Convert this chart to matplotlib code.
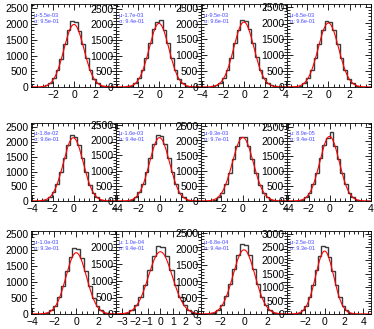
import numpy as np
import matplotlib
matplotlib.use("Agg")
import matplotlib.pyplot as plt
from matplotlib.ticker import MultipleLocator, AutoMinorLocator

plt.rcParams['font.family'] = ['Liberation Sans', 'DejaVu Sans']
plt.rcParams['font.size'] = 7.5

# common bin edges of the step histograms
edges = np.arange(-4.2, 4.2001, 0.35)

counts = [
    [0, 1, 4, 15, 48, 118, 272, 540, 905, 1380, 1810, 2090, 2060, 1790, 1365, 920, 525, 265, 122, 44, 17, 5, 1, 0],
    [0, 1, 5, 16, 45, 121, 275, 545, 930, 1400, 1840, 2080, 2140, 1830, 1395, 925, 540, 270, 118, 47, 15, 4, 1, 0],
    [0, 1, 5, 17, 49, 124, 280, 548, 920, 1385, 1815, 2120, 2090, 1820, 1390, 935, 545, 276, 125, 48, 17, 5, 1, 0],
    [0, 1, 5, 15, 46, 117, 266, 525, 895, 1350, 1770, 2050, 2020, 1775, 1345, 890, 520, 262, 116, 45, 15, 4, 1, 0],
    [0, 1, 5, 17, 50, 130, 290, 570, 975, 1465, 1905, 2230, 2180, 1900, 1455, 970, 560, 285, 128, 50, 16, 5, 1, 0],
    [0, 1, 5, 16, 47, 125, 280, 555, 950, 1420, 1865, 2170, 2140, 1860, 1415, 945, 550, 278, 124, 48, 16, 5, 1, 0],
    [0, 1, 5, 16, 48, 126, 282, 552, 940, 1410, 1850, 2150, 2130, 1845, 1410, 940, 548, 280, 126, 49, 16, 5, 1, 0],
    [0, 1, 5, 16, 48, 125, 285, 560, 950, 1430, 1870, 2100, 2320, 1860, 1420, 950, 555, 280, 122, 47, 16, 5, 1, 0],
    [0, 1, 4, 14, 44, 116, 262, 520, 890, 1350, 1770, 2080, 2050, 1765, 1345, 885, 515, 262, 116, 44, 14, 4, 1, 0],
    [0, 1, 4, 14, 43, 114, 258, 512, 875, 1325, 1740, 2040, 2010, 1735, 1320, 872, 508, 256, 113, 43, 14, 4, 1, 0],
    [0, 1, 5, 15, 46, 121, 272, 540, 925, 1400, 1830, 2150, 2120, 1825, 1395, 920, 535, 270, 120, 46, 15, 5, 1, 0],
    [0, 1, 5, 17, 52, 140, 315, 630, 1080, 1630, 2150, 2540, 2500, 2140, 1620, 1075, 625, 312, 138, 52, 17, 5, 1, 0],
]

# fitted gaussian parameters shown in each panel
mu = [-5.5e-03, -1.7e-03, -9.5e-03, -6.5e-03,
      -1.8e-02, -1.6e-03, -9.3e-03, 8.9e-05,
      -1.0e-03, 1.0e-04, -6.8e-04, -2.5e-03]
sigma = [9.5e-01, 9.4e-01, 9.6e-01, 9.6e-01,
         9.6e-01, 9.4e-01, 9.7e-01, 9.4e-01,
         9.3e-01, 9.4e-01, 9.4e-01, 9.3e-01]
amp = [1990, 2030, 2050, 2000, 2150, 2080, 2120, 2170, 1920, 1860, 1980, 2350]

xlims = [(-4.1, 4.0), (-4.1, 4.0), (-4.1, 4.1), (-3.9, 4.0),
         (-4.1, 4.1), (-4.1, 3.9), (-3.9, 4.1), (-4.1, 4.0),
         (-4.1, 3.6), (-3.5, 3.2), (-3.7, 3.7), (-3.9, 4.8)]
ymaxs = [2640, 2650, 2620, 2590, 2650, 2560, 2600, 2620, 2600, 2480, 2560, 3100]

xticks = [[-2, 0, 2], [-2, 0, 2], [-4, -2, 0, 2, 4], [-2, 0, 2],
          [-4, -2, 0, 2, 4], [-4, -2, 0, 2], [-2, 0, 2, 4], [-4, -2, 0, 2, 4],
          [-4, -2, 0, 2], [-3, -2, -1, 0, 1, 2, 3], [-2, 0, 2], [-2, 0, 2, 4]]

# axes frames in pixels (left, top, right, bottom)
col_x = [31, 116, 201, 287, 371]
row_y = [(4, 87), (123, 201), (231, 314)]

W, H = 374, 329
fig = plt.figure(figsize=(W / 100, H / 100), dpi=100)

for i in range(12):
    r, c = divmod(i, 4)
    x0, x1 = col_x[c], col_x[c + 1]
    t, b = row_y[r]
    ax = fig.add_axes([x0 / W, 1 - b / H, (x1 - x0) / W, (b - t) / H])

    ax.stairs(counts[i], edges, color='#3a3a3a', lw=1.0)
    xx = np.linspace(xlims[i][0], xlims[i][1], 300)
    ax.plot(xx, amp[i] * np.exp(-(xx - mu[i]) ** 2 / (2 * sigma[i] ** 2)),
            color='red', lw=0.8)

    ax.set_xlim(*xlims[i])
    ax.set_ylim(0, ymaxs[i])
    ax.set_xticks(xticks[i])
    ax.xaxis.set_minor_locator(AutoMinorLocator(4 if i != 9 else 2))
    ax.yaxis.set_major_locator(MultipleLocator(500))
    ax.yaxis.set_minor_locator(MultipleLocator(100))
    ax.tick_params(which='both', direction='in', top=True, right=True,
                   labelsize=7.5, pad=2, width=0.6)
    ax.tick_params(which='major', length=4)
    ax.tick_params(which='minor', length=2)
    for s in ax.spines.values():
        s.set_linewidth(0.6)

    ax.text(0.03, 0.86, 'μ:% .1e' % mu[i], transform=ax.transAxes,
            fontsize=4, color='#4848ff', va='center')
    ax.text(0.03, 0.79, 'σ:% .1e' % sigma[i], transform=ax.transAxes,
            fontsize=4, color='#4848ff', va='center')

fig.savefig('out.png', dpi=100)
